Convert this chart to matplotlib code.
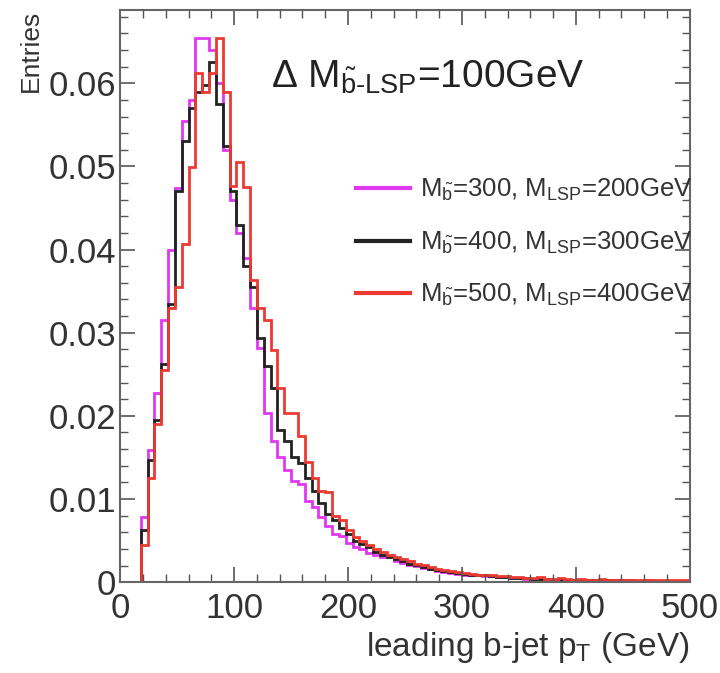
import numpy as np
import matplotlib
matplotlib.use("Agg")
import matplotlib.pyplot as plt
from matplotlib.ticker import MultipleLocator, FuncFormatter

plt.rcParams['font.family'] = ['Liberation Sans', 'DejaVu Sans']
plt.rcParams['mathtext.fontset'] = 'custom'
plt.rcParams['mathtext.rm'] = 'Liberation Sans'
plt.rcParams['mathtext.it'] = 'Liberation Sans:italic'

# histogram binning (GeV)
bin_width = 6.0
n_bins = 84

# normalised entries per bin
m300 = [0, 0, 0, 0.0078, 0.0159, 0.0227, 0.0315, 0.0400, 0.0474, 0.0555,
        0.0580, 0.0655, 0.0655, 0.0640, 0.0600, 0.0520, 0.0460, 0.0420, 0.0390, 0.0330,
        0.0282, 0.0203, 0.0170, 0.0150, 0.0135, 0.0122, 0.0118, 0.0098, 0.0090, 0.0078,
        0.0068, 0.0058, 0.0055, 0.0047, 0.0042, 0.0040, 0.0035, 0.0033, 0.0030, 0.0031,
        0.0026, 0.0023, 0.0021, 0.0019, 0.0017, 0.0016, 0.0014, 0.0012, 0.0011, 0.0010,
        0.0009, 0.0009, 0.0008, 0.0007, 0.0007, 0.0006, 0.0006, 0.0005, 0.0005, 0.0004,
        0.0004, 0.0004, 0.0003, 0.0003, 0.0003, 0.0003, 0.0002, 0.0003, 0.0002, 0.0002,
        0.0002, 0.0002, 0.0002, 0.0001, 0.0002, 0.0001, 0.0001, 0.0002, 0.0001, 0.0001,
        0.0001, 0.0001, 0.0001, 0.0001]

m400 = [0, 0, 0, 0.0063, 0.0147, 0.0195, 0.0262, 0.0335, 0.0470, 0.0530,
        0.0570, 0.0590, 0.0598, 0.0625, 0.0575, 0.0525, 0.0470, 0.0430, 0.0380, 0.0355,
        0.0294, 0.0260, 0.0234, 0.0183, 0.0170, 0.0150, 0.0143, 0.0125, 0.0110, 0.0095,
        0.0082, 0.0075, 0.0065, 0.0058, 0.0050, 0.0046, 0.0042, 0.0036, 0.0033, 0.0030,
        0.0028, 0.0025, 0.0022, 0.0021, 0.0018, 0.0016, 0.0015, 0.0013, 0.0012, 0.0011,
        0.0010, 0.0009, 0.0008, 0.0008, 0.0007, 0.0006, 0.0006, 0.0005, 0.0005, 0.0005,
        0.0004, 0.0004, 0.0004, 0.0003, 0.0003, 0.0003, 0.0003, 0.0002, 0.0002, 0.0002,
        0.0002, 0.0002, 0.0001, 0.0002, 0.0001, 0.0001, 0.0001, 0.0001, 0.0001, 0.0001,
        0.0001, 0.0001, 0.0001, 0.0001]

m500 = [0, 0, 0, 0.0045, 0.0125, 0.0190, 0.0255, 0.0330, 0.0355, 0.0407,
        0.0499, 0.0612, 0.0590, 0.0612, 0.0654, 0.0590, 0.0477, 0.0505, 0.0475, 0.0363,
        0.0330, 0.0315, 0.0279, 0.0234, 0.0203, 0.0203, 0.0176, 0.0144, 0.0125, 0.0110,
        0.0108, 0.0080, 0.0075, 0.0063, 0.0054, 0.0050, 0.0045, 0.0040, 0.0036, 0.0033,
        0.0030, 0.0028, 0.0025, 0.0022, 0.0021, 0.0018, 0.0016, 0.0015, 0.0013, 0.0012,
        0.0011, 0.0010, 0.0009, 0.0009, 0.0008, 0.0007, 0.0007, 0.0006, 0.0006, 0.0005,
        0.0005, 0.0006, 0.0004, 0.0004, 0.0005, 0.0004, 0.0003, 0.0004, 0.0003, 0.0003,
        0.0004, 0.0003, 0.0002, 0.0003, 0.0003, 0.0002, 0.0003, 0.0002, 0.0002, 0.0003,
        0.0002, 0.0002, 0.0002, 0.0002]

labels = [r'M$_{\tilde{\mathrm{b}}}$=300, M$_{\mathrm{LSP}}$=200GeV',
          r'M$_{\tilde{\mathrm{b}}}$=400, M$_{\mathrm{LSP}}$=300GeV',
          r'M$_{\tilde{\mathrm{b}}}$=500, M$_{\mathrm{LSP}}$=400GeV']
colors = ['#e038f0', '#222222', '#ec3a32']

edges = np.arange(n_bins + 1) * bin_width

fig = plt.figure(figsize=(7.2, 6.73), dpi=100)
ax = fig.add_axes([0.167, 0.135, 0.791, 0.85])

for vals, lab, col in zip([m300, m400, m500], labels, colors):
    ax.stairs(vals, edges, color=col, linewidth=2.0, label=lab)

ax.set_xlim(0, 500)
ax.set_ylim(0, 0.0688)

ax.xaxis.set_major_locator(MultipleLocator(100))
ax.xaxis.set_minor_locator(MultipleLocator(20))
ax.yaxis.set_major_locator(MultipleLocator(0.01))
ax.yaxis.set_minor_locator(MultipleLocator(0.002))
ax.yaxis.set_major_formatter(FuncFormatter(lambda v, p: '%g' % round(v, 3)))

ax.tick_params(which='both', direction='in', top=True, right=True,
               colors='#555555', labelcolor='#333333', labelsize=25)
ax.tick_params(axis='x', which='major', pad=7)
ax.tick_params(axis='y', which='major', pad=3)
ax.tick_params(which='major', length=11, width=1.2)
ax.tick_params(which='minor', length=5.5, width=1.0)
for s in ax.spines.values():
    s.set_color('#666666')
    s.set_linewidth(1.5)

ax.set_xlabel(r'leading b-jet p$_{\mathrm{T}}$ (GeV)', loc='right', fontsize=24,
              color='#333333', labelpad=4)
ax.set_ylabel('Entries', loc='top', fontsize=19, color='#333333', labelpad=4)

ax.text(0.265, 0.883, r'$\Delta$ M$_{\tilde{\mathrm{b}}\text{-LSP}}$=100GeV',
        transform=ax.transAxes, fontsize=28, color='#222222', va='center')

leg = ax.legend(loc='upper right', bbox_to_anchor=(1.005, 0.708), frameon=False,
                fontsize=18.5, handlelength=2.1, handletextpad=0.4,
                labelspacing=1.02, borderpad=0, borderaxespad=0)
for line in leg.get_lines():
    line.set_linewidth(3)
for t in leg.get_texts():
    t.set_color('#333333')

fig.savefig('out.png', dpi=100)
